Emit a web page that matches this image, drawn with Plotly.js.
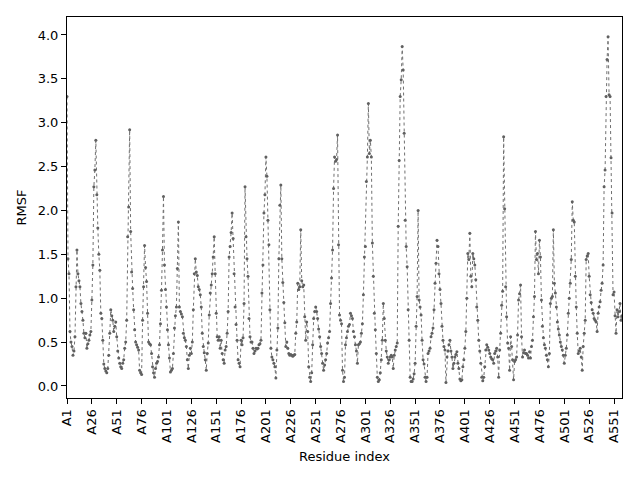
<!DOCTYPE html>
<html>
<head>
<meta charset="utf-8">
<script src="https://cdn.plot.ly/plotly-3.0.1.min.js"></script>
<style>
  html, body { margin: 0; padding: 0; background: #fff; }
  #graph { width: 640px; height: 480px; }
</style>
</head>
<body>
<div id="graph"></div>
<script>
// RMSF per residue (residue 1 .. 559)
const rmsf = [
  3.3, 1.45, 1.28, 0.62, 0.5, 0.45, 0.35, 0.4, 0.56, 1.13,
  1.55, 1.28, 1.2, 1.13, 0.94, 0.85, 0.75, 0.6, 0.55, 0.6,
  0.43, 0.48, 0.52, 0.58, 0.62, 0.98, 1.38, 2.27, 2.46, 2.8,
  2.18, 1.8, 1.5, 1.32, 0.83, 0.77, 0.52, 0.25, 0.2, 0.17,
  0.15, 0.2, 0.35, 0.6, 0.87, 0.8, 0.75, 0.62, 0.68, 0.73,
  0.56, 0.4, 0.32, 0.26, 0.22, 0.2, 0.26, 0.3, 0.43, 0.5,
  0.75, 1.7, 2.04, 2.92, 1.76, 1.3, 1.11, 0.87, 0.64, 0.5,
  0.47, 0.44, 0.41, 0.18, 0.15, 0.13, 0.75, 1.13, 1.6, 1.35,
  1.19, 0.83, 0.5, 0.48, 0.47, 0.37, 0.22, 0.15, 0.1, 0.2,
  0.26, 0.28, 0.33, 0.47, 0.71, 1.09, 1.55, 2.16, 1.38, 1.1,
  0.9, 0.64, 0.47, 0.32, 0.16, 0.18, 0.2, 0.37, 0.66, 0.8,
  0.9, 1.34, 1.87, 0.9, 0.85, 0.82, 0.79, 0.6, 0.55, 0.52,
  0.45, 0.3, 0.2, 0.35, 0.43, 0.37, 0.5, 0.87, 1.28, 1.45,
  1.3, 1.26, 1.13, 1.1, 1.04, 0.9, 0.6, 0.45, 0.38, 0.3,
  0.18, 0.37, 0.49, 0.81, 1.06, 1.15, 1.28, 1.47, 1.7, 1.28,
  0.83, 0.56, 0.52, 0.56, 0.43, 0.52, 0.37, 0.3, 0.26, 0.41,
  0.45, 0.6, 0.85, 1.47, 1.59, 1.75, 1.97, 1.68, 1.28, 0.9,
  0.7, 0.52, 0.3, 0.26, 0.22, 0.52, 0.47, 0.55, 0.94, 2.27,
  1.7, 1.45, 1.25, 0.77, 0.56, 0.5, 0.5, 0.43, 0.37, 0.4,
  0.43, 0.42, 0.43, 0.47, 0.48, 0.52, 1.06, 1.38, 1.97, 2.18,
  2.61, 2.39, 1.89, 1.61, 0.87, 0.43, 0.33, 0.3, 0.26, 0.22,
  0.09, 0.41, 0.66, 1.45, 2.06, 2.29, 1.45, 1.18, 0.95, 0.72,
  0.45, 0.5, 0.43, 0.37, 0.35, 0.36, 0.35, 0.34, 0.35, 0.36,
  0.6, 0.73, 1.17, 1.1, 1.13, 1.78, 1.2, 1.13, 1.15, 0.79,
  0.52, 0.73, 0.62, 0.22, 0.1, 0.05, 0.15, 0.47, 0.77, 0.85,
  0.9, 0.85, 0.77, 0.65, 0.56, 0.45, 0.37, 0.26, 0.18, 0.24,
  0.3, 0.37, 0.49, 0.55, 0.62, 0.94, 1.23, 1.55, 2.25, 2.61,
  2.56, 2.58, 2.86, 1.61, 0.81, 0.75, 0.71, 0.18, 0.05, 0.1,
  0.47, 0.55, 0.62, 0.68, 0.7, 0.83, 0.8, 0.77, 0.62, 0.56,
  0.47, 0.4, 0.26, 0.47, 0.48, 0.5, 0.6, 0.71, 1.04, 1.47,
  1.59, 2.33, 2.61, 3.22, 2.65, 2.8, 2.61, 1.63, 1.25, 0.83,
  0.64, 0.37, 0.1, 0.05, 0.07, 0.15, 0.3, 0.52, 0.94, 0.77,
  0.52, 0.4, 0.33, 0.26, 0.3, 0.33, 0.35, 0.33, 0.2, 0.35,
  0.41, 0.45, 0.49, 1.82, 2.57, 3.3, 3.49, 3.87, 3.6, 2.88,
  1.89, 1.59, 1.36, 0.87, 0.52, 0.1, 0.05, 0.05, 0.08, 0.14,
  0.26, 0.68, 1.02, 2.0, 0.98, 0.9, 0.81, 0.52, 0.3, 0.25,
  0.1, 0.05, 0.1, 0.37, 0.4, 0.43, 0.56, 0.6, 0.66, 0.87,
  1.17, 1.4, 1.66, 1.59, 1.28, 1.1, 0.94, 0.68, 0.52, 0.45,
  0.41, 0.04, 0.33, 0.4, 0.47, 0.52, 0.4, 0.33, 0.2, 0.26,
  0.33, 0.36, 0.39, 0.26, 0.2, 0.08, 0.06, 0.07, 0.22, 0.3,
  0.43, 0.62, 1.0, 1.51, 1.44, 1.74, 1.25, 1.13, 1.51, 1.45,
  1.38, 1.21, 0.9, 0.75, 0.52, 0.4, 0.26, 0.1, 0.06, 0.1,
  0.22, 0.41, 0.47, 0.44, 0.41, 0.37, 0.33, 0.31, 0.3, 0.26,
  0.37, 0.4, 0.43, 0.33, 0.1, 0.41, 0.6, 0.92, 1.08, 2.84,
  2.02, 1.13, 0.79, 0.49, 0.43, 0.18, 0.56, 0.45, 0.3, 0.07,
  0.28, 0.3, 0.33, 0.58, 0.98, 1.05, 1.15, 0.56, 0.33, 0.38,
  0.41, 0.37, 0.37, 0.35, 0.32, 0.39, 0.32, 0.45, 0.52, 0.79,
  1.02, 1.76, 1.44, 1.51, 1.28, 1.66, 1.47, 0.98, 0.68, 0.55,
  0.47, 0.43, 0.35, 0.3, 0.22, 0.37, 0.94, 1.0, 1.02, 1.78,
  1.17, 1.06, 0.9, 0.73, 0.65, 0.58, 0.5, 0.45, 0.41, 0.35,
  0.26, 0.35, 0.43, 0.58, 0.83, 1.0, 1.17, 1.44, 2.1, 1.89,
  1.87, 1.25, 0.9, 0.6, 0.37, 0.4, 0.43, 0.33, 0.18, 0.45,
  0.6, 0.75, 1.44, 1.48, 1.51, 1.25, 1.04, 0.95, 0.87, 0.83,
  0.77, 0.75, 0.73, 0.62, 0.83, 0.9, 0.96, 1.09, 1.17, 1.38,
  2.27, 2.46, 3.3, 3.72, 3.98, 3.32, 3.3, 2.6, 1.97, 1.04,
  1.07, 0.8, 0.6, 0.87, 0.79, 0.85, 0.94, 0.75, 0.8
];

// residue numbers, one per value
const residues = rmsf.map((v, i) => i + 1);

// x tick positions and labels (every 25 residues)
const tickVals = [1, 26, 51, 76, 101, 126, 151, 176, 201, 226, 251,
                  276, 301, 326, 351, 376, 401, 426, 451, 476, 501, 526, 551];
const tickText = ['A1', 'A26', 'A51', 'A76', 'A101', 'A126', 'A151', 'A176',
                  'A201', 'A226', 'A251', 'A276', 'A301', 'A326', 'A351', 'A376',
                  'A401', 'A426', 'A451', 'A476', 'A501', 'A526', 'A551'];

const yTicks = [0, 0.5, 1, 1.5, 2, 2.5, 3, 3.5, 4];

const font = { family: 'DejaVu Sans, sans-serif', size: 13, color: '#000' };

const trace = {
    x: residues,
    y: rmsf,
    mode: 'lines+markers',
    line: { color: '#707070', width: 1, dash: 'dot' },
    marker: { color: '#606060', size: 3 },
    hoverinfo: 'skip'
};

const axisBase = {
    showline: true,
    mirror: true,
    linecolor: '#000',
    linewidth: 1,
    showgrid: false,
    zeroline: false,
    ticks: 'outside',
    ticklen: 5,
    tickwidth: 1,
    tickcolor: '#000',
    tickfont: font
};

const layout = {
    width: 640,
    height: 480,
    paper_bgcolor: '#fff',
    plot_bgcolor: '#fff',
    showlegend: false,
    margin: { l: 67, r: 18, t: 17, b: 82, pad: 0 },
    font: font,
    xaxis: Object.assign({}, axisBase, {
        range: [1, 559],
        tickvals: tickVals,
        ticktext: tickText,
        tickangle: -90,
        automargin: false,
        title: { text: 'Residue index', font: font, standoff: 9 }
    }),
    yaxis: Object.assign({}, axisBase, {
        range: [-0.137, 4.205],
        tickvals: yTicks,
        ticktext: yTicks.map(v => v.toFixed(1)),
        automargin: false,
        title: { text: 'RMSF', font: font, standoff: 8 }
    })
};

Plotly.newPlot('graph', [trace], layout, { displayModeBar: false, staticPlot: true });
</script>
</body>
</html>
